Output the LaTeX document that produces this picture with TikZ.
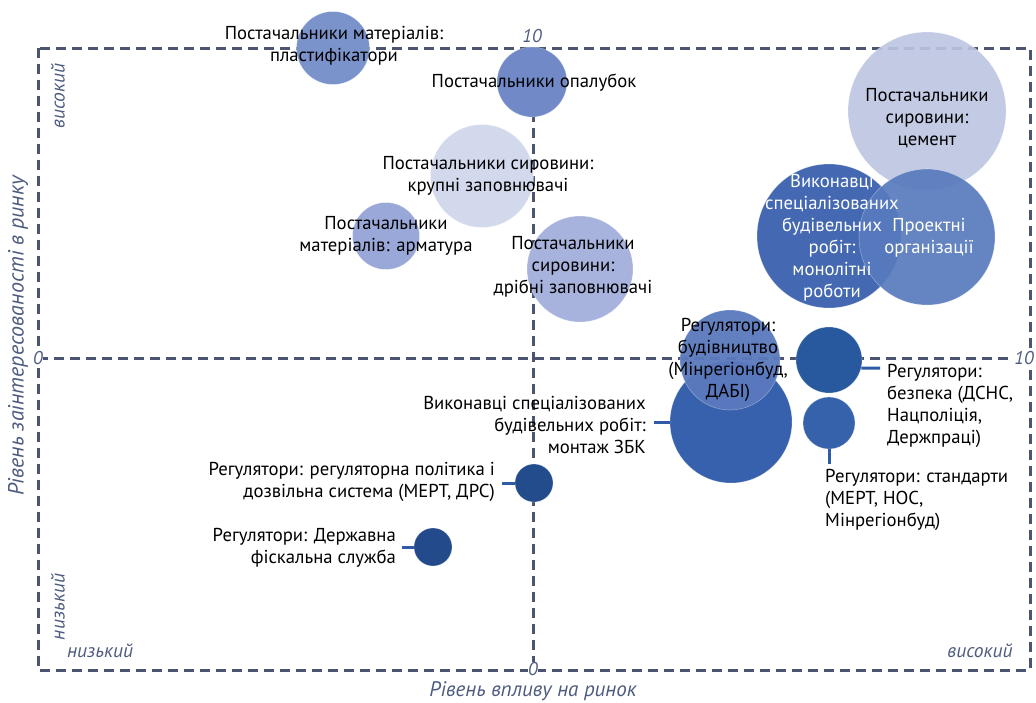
\documentclass[tikz,border=0pt]{standalone}
\usepackage{fontspec}
\setmainfont{PT Sans}
\definecolor{frm}{HTML}{4B5470}
\definecolor{axt}{HTML}{4D5B7E}
\definecolor{lnk}{HTML}{2F5AA5}
\definecolor{cA}{HTML}{7B93CB}
\definecolor{cB}{HTML}{7189C7}
\definecolor{cC}{HTML}{BCC4E1}
\definecolor{cD}{HTML}{D3D9ED}
\definecolor{cE}{HTML}{99A8D8}
\definecolor{cF}{HTML}{A7B3DC}
\definecolor{cG}{HTML}{4469B2}
\definecolor{cH}{HTML}{587ABD}
\definecolor{cI}{HTML}{5A79BD}
\definecolor{cJ}{HTML}{3761AD}
\definecolor{cK}{HTML}{28589D}
\definecolor{cL}{HTML}{3562AA}
\definecolor{cM}{HTML}{234C8C}
\definecolor{cN}{HTML}{234A8B}
\begin{document}
\begin{tikzpicture}[x=1pt,y=-1pt,
  bub/.style={circle, inner sep=0pt, draw=white, draw opacity=0.35, line width=0.6pt},
  lab/.style={align=center, font=\fontsize{18.7}{22}\selectfont, text=black, inner sep=0pt},
  wlab/.style={lab, text=white},
  ax/.style={font=\itshape\fontsize{19.5}{22}\selectfont, text=axt, inner sep=1pt},
  num/.style={ax, inner sep=0.5pt, font=\itshape\fontsize{18.5}{20}\selectfont},
  link/.style={draw=lnk, line width=3pt},
  frame/.style={draw=frm, line width=3pt, dash pattern=on 10pt off 6pt}]
\useasboundingbox (0,0) rectangle (1036,702);
% frame and axes
\draw[frame] (38,48) rectangle (1030,670);
\draw[frame] (533,48) -- (533,670);
\draw[frame] (38,358) -- (1030,358);
% axis numbers and labels
\node[num] (t10) at (532,36) {10};
\node[num, fill=white] (l0) at (38,358) {0};
\node[num, fill=white] (r10) at (1024,358) {10};
\node[num, fill=white] (b0) at (533,669) {0};
\node[ax, rotate=90] (vhi) at (58,96) {високий};
\node[ax, rotate=90] (vlo) at (58,607) {низький};
\node[ax] (hlo) at (100,651) {низький};
\node[ax] (hhi) at (980,651) {високий};
\node[ax, rotate=90, font=\itshape\fontsize{22}{24}\selectfont] (yt) at (18,336) {Рівень заінтересованості в ринку};
\node[ax, inner sep=0pt, font=\itshape\fontsize{21}{24}\selectfont] (xt) at (533,691) {Рівень впливу на ринок};
% bubbles
\node[bub, fill=cA, minimum size=73pt] (c1) at (333,48) {};
\node[bub, fill=cB, minimum size=70pt] (c2) at (532,82) {};
\node[bub, fill=cC, fill opacity=0.9, minimum size=158pt] (c3) at (927,111) {};
\node[bub, fill=cD, minimum size=103pt] (c4) at (482,176) {};
\node[bub, fill=cE, minimum size=67pt] (c5) at (386,236) {};
\node[bub, fill=cF, minimum size=106pt] (c6) at (580,269) {};
\node[bub, fill=cG, minimum size=144pt] (c7) at (829,236) {};
\node[bub, fill=cH, fill opacity=0.92, minimum size=136pt] (c8) at (927,237) {};
\node[bub, fill=cJ, minimum size=122pt] (c10) at (731,422) {};
\node[bub, fill=cI, fill opacity=0.95, minimum size=100pt] (c9) at (730,360) {};
\node[bub, fill=cK, minimum size=66pt] (c11) at (829,360) {};
\node[bub, fill=cL, minimum size=52pt] (c12) at (829,423) {};
\node[bub, fill=cM, minimum size=38pt] (c13) at (534,483) {};
\node[bub, fill=cN, minimum size=38pt] (c14) at (433,547) {};
% labels
\node[lab] (l1) at (334,46) {Постачальники матеріалів:\\пластифікатори};
\node[lab] (l2) at (534,83) {Постачальники опалубок};
\node[lab] (l3) at (927,118) {Постачальники\\сировини:\\цемент};
\node[lab] (l4) at (488,176) {Постачальники сировини:\\крупні заповнювачі};
\node[lab] (l5) at (386,236) {Постачальники\\матеріалів: арматура};
\node[lab] (l6) at (573,267) {Постачальники\\сировини:\\дрібні заповнювачі};
\node[wlab] (l7) at (832,238) {Виконавці\\спеціалізованих\\будівельних\\робіт:\\монолітні\\роботи};
\node[wlab] (l8) at (929,238) {Проектні\\організації};
\node[lab] (l9) at (728,360) {Регулятори:\\будівництво\\(Мінрегіонбуд,\\ДАБІ)};
\node[lab, align=right, anchor=east] (l10) at (646,425) {Виконавці спеціалізованих\\будівельних робіт:\\монтаж ЗБК};
\node[lab, align=left, anchor=west] (l11) at (887,406) {Регулятори:\\безпека (ДСНС,\\Нацполіція,\\Держпраці)};
\node[lab, align=left, anchor=west] (l12) at (825,500) {Регулятори: стандарти\\(МЕРТ, НОС,\\Мінрегіонбуд)};
\node[lab, align=right, anchor=east] (l13) at (495,482) {Регулятори: регуляторна політика і\\дозвільна система (МЕРТ, ДРС)};
\node[lab, align=right, anchor=east] (l14) at (396,548) {Регулятори: Державна\\фіскальна служба};
% connectors
\coordinate (k10) at (654,422);
\coordinate (k11) at (880,368);
\coordinate (k12) at (829,464);
\coordinate (k13) at (502,483);
\coordinate (k14) at (402,547);
\draw[link] (k10) -- (c10.west);
\draw[link] (c11.-14) -- (k11);
\draw[link] (c12.south) -- (k12);
\draw[link] (k13) -- (c13.west);
\draw[link] (k14) -- (c14.west);
\end{tikzpicture}
\end{document}
